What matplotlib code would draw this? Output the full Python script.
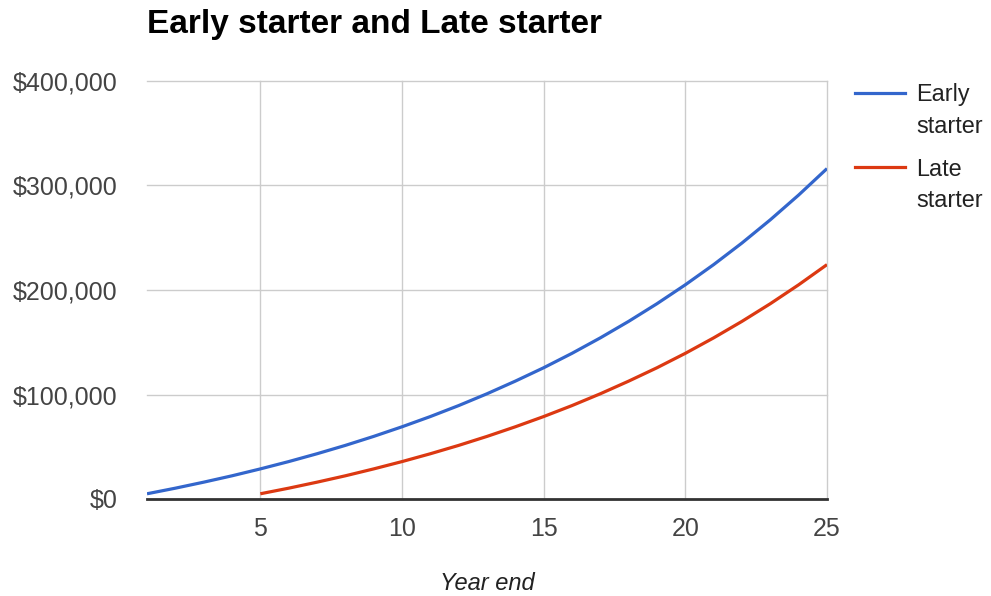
import matplotlib
matplotlib.use("Agg")
import matplotlib.pyplot as plt
from matplotlib.lines import Line2D
from matplotlib.ticker import FuncFormatter

plt.rcParams['font.family'] = ['Liberation Sans', 'DejaVu Sans']

# Portfolio value at each year end
early_years = list(range(1, 26))
early_values = [5000, 10350, 16100, 22200, 28800, 35800, 43300, 51300, 59900, 69100,
                78900, 89400, 100700, 112800, 125600, 139400, 154200, 170000, 186900,
                205000, 224300, 245000, 267200, 290900, 316200]

late_years = list(range(5, 26))
late_values = [5000, 10350, 16100, 22200, 28800, 35800, 43300, 51300, 59900, 69100,
               78900, 89400, 100700, 112800, 125600, 139400, 154200, 170000, 186900,
               205000, 224300]

series_names = [("Early", "starter"), ("Late", "starter")]
series_colors = ["#3366CC", "#DC3912"]
x_ticks = [5, 10, 15, 20, 25]
y_ticks = [0, 100000, 200000, 300000, 400000]

W, H = 991, 596
fig = plt.figure(figsize=(W / 100, H / 100), dpi=100)
left, right, top, bottom = 147, 827, 81, 499
ax = fig.add_axes([left / W, 1 - bottom / H, (right - left) / W, (bottom - top) / H])

ax.plot(early_years, early_values, color=series_colors[0], lw=2.3, solid_capstyle='butt', zorder=3)
ax.plot(late_years, late_values, color=series_colors[1], lw=2.3, solid_capstyle='butt', zorder=3)

ax.set_xlim(1, 25)
ax.set_ylim(0, 400000)
ax.set_xticks(x_ticks)
ax.set_yticks(y_ticks)
ax.yaxis.set_major_formatter(FuncFormatter(lambda v, p: "${:,.0f}".format(v)))
ax.grid(True, color="#CCCCCC", lw=1.0, zorder=0)
for gl in ax.get_xgridlines() + ax.get_ygridlines():
    gl.set_clip_on(False)
ax.axhline(0, color="#333333", lw=2.0, zorder=4, clip_on=False)
for s in ax.spines.values():
    s.set_visible(False)
ax.tick_params(axis='both', length=0, labelsize=18, labelcolor="#444444")
ax.tick_params(axis='y', pad=21)
ax.tick_params(axis='x', pad=13)

# Title and axis label
fig.text(left / W, 1 - 25 / H, "Early starter and Late starter", fontsize=24,
         fontweight='bold', color="#000000", ha='left', va='center')
fig.text((left + right) / 2 / W, 1 - 583 / H, "Year end", fontsize=17,
         style='italic', color="#222222", ha='center', va='center')

# Legend: colour swatch plus two-line label per series
legend_rows = [93, 167]
for (line1, line2), color, yc in zip(series_names, series_colors, legend_rows):
    fig.add_artist(Line2D([855 / W, 905 / W], [1 - yc / H, 1 - yc / H],
                          color=color, lw=2.3, transform=fig.transFigure))
    fig.text(916 / W, 1 - (yc + 8.5) / H, line1, fontsize=16.8, color="#222222",
             ha='left', va='baseline')
    fig.text(916 / W, 1 - (yc + 40) / H, line2, fontsize=16.8, color="#222222",
             ha='left', va='baseline')

fig.savefig("out.png", dpi=100, facecolor="white")
